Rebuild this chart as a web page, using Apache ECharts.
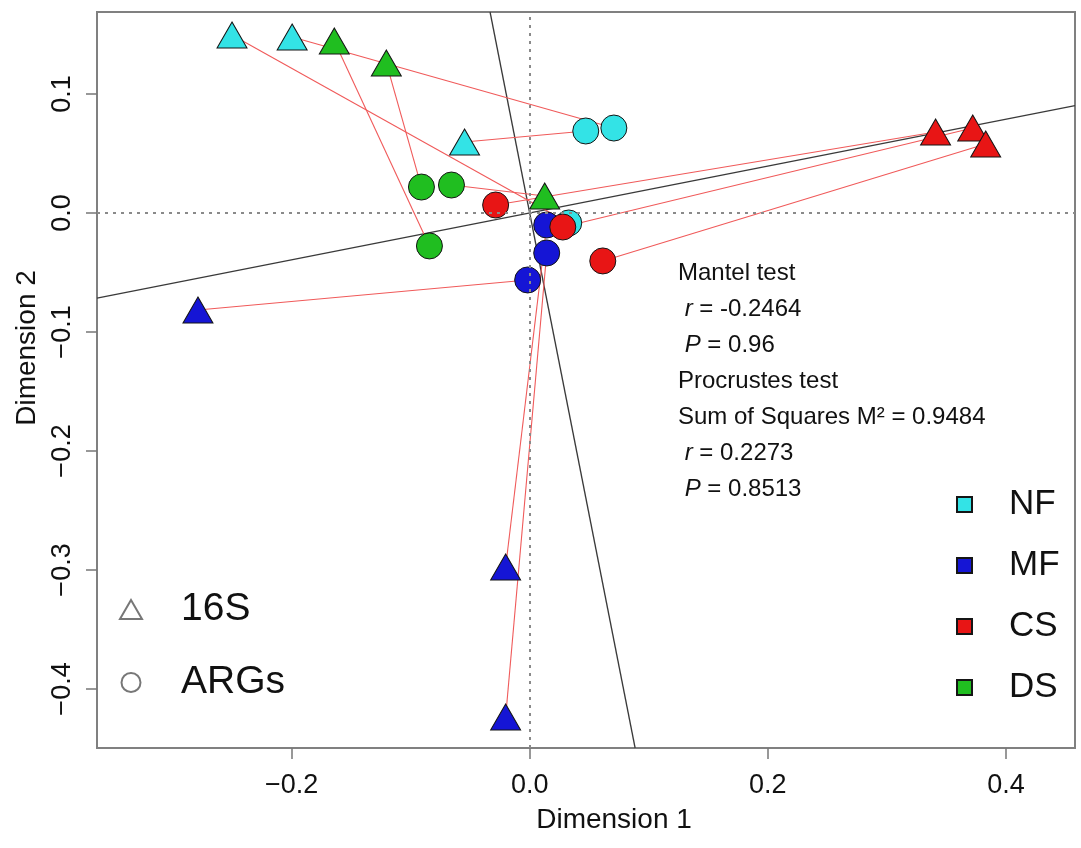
<!DOCTYPE html>
<html>
<head>
<meta charset="utf-8">
<script src="https://cdn.jsdelivr.net/npm/echarts@6/dist/echarts.min.js"></script>
<style>
  html, body { margin: 0; padding: 0; background: #fff; }
  #chart { width: 1081px; height: 848px; }
</style>
</head>
<body>
<div id="chart"></div>
<script>
// groups, in drawing order, and their fill colours
const groups = ['NF', 'MF', 'CS', 'DS']
const groupColors = ['#33E3E6', '#1515D5', '#E81515', '#20BE20']

// 16S ordination (triangles), three samples per group
const nf16S = [[-0.2500, 0.1496], [-0.1995, 0.1479], [-0.0547, 0.0597]]
const mf16S = [[-0.2786, -0.0815], [-0.0202, -0.2975], [-0.0202, -0.4235]]
const cs16S = [[0.3409, 0.0681], [0.3721, 0.0714], [0.3830, 0.0580]]
const ds16S = [[-0.1641, 0.1445], [-0.1204, 0.1261], [0.0126, 0.0143]]

// ARGs ordination (circles), same sample order as above
const nfARGs = [[0.0328, -0.0084], [0.0707, 0.0714], [0.0471, 0.0689]]
const mfARGs = [[-0.0017, -0.0563], [0.0143, -0.0101], [0.0143, -0.0336]]
const csARGs = [[-0.0286, 0.0067], [0.0278, -0.0118], [0.0614, -0.0403]]
const dsARGs = [[-0.0842, -0.0277], [-0.0909, 0.0218], [-0.0657, 0.0235]]

// slope of the rotated axis
const rotSlope = 0.197

// test results
const mantelR = '-0.2464'
const mantelP = '0.96'
const procSS = '0.9484'
const procR = '0.2273'
const procP = '0.8513'

// axes
const xRange = [-0.3634, 0.458]
const yRange = [-0.4496, 0.1689]
const xTicks = [-0.2, 0.0, 0.2, 0.4]
const yTicks = [-0.4, -0.3, -0.2, -0.1, 0.0, 0.1]

const tri = [nf16S, mf16S, cs16S, ds16S]
const circ = [nfARGs, mfARGs, csARGs, dsARGs]

const fmt = v => (v < -1e-9 ? '\u2212' : '') + Math.abs(v).toFixed(1)
const font = "'Liberation Sans', Arial, sans-serif"

// red segments joining each sample's two positions
let pairs = []
tri.forEach((pts, g) => {
  pts.forEach((p, i) => pairs.push({ coords: [p, circ[g][i]] }))
})

// rotated axes through the origin, clipped to the plot range
const rotLines = [
  { coords: [[xRange[0], rotSlope * xRange[0]], [xRange[1], rotSlope * xRange[1]]] },
  { coords: [[-rotSlope * yRange[1], yRange[1]], [-rotSlope * yRange[0], yRange[0]]] }
]

let series = [
  {
    type: 'lines', coordinateSystem: 'cartesian2d', z: 1, silent: true,
    lineStyle: { color: '#3a3a3a', width: 1.3, opacity: 1 },
    data: rotLines,
    markLine: {
      silent: true, symbol: 'none', label: { show: false },
      lineStyle: { type: [3, 5], color: '#8a8a8a', width: 2 },
      data: [{ yAxis: 0 }, { xAxis: 0 }]
    }
  },
  {
    type: 'lines', coordinateSystem: 'cartesian2d', z: 2, silent: true,
    lineStyle: { color: '#F05A5A', width: 1.1, opacity: 1 },
    data: pairs
  },
  // empty series, only for the shape legend
  { name: '16S', type: 'scatter', data: [], symbol: 'triangle',
    itemStyle: { color: 'rgba(0,0,0,0)', borderColor: '#555', borderWidth: 1.5 } },
  { name: 'ARGs', type: 'scatter', data: [], symbol: 'circle',
    itemStyle: { color: 'rgba(0,0,0,0)', borderColor: '#555', borderWidth: 1.5 } }
]

groups.forEach((g, k) => {
  const style = { color: groupColors[k], borderColor: '#151515', borderWidth: 1, opacity: 1 }
  series.push({
    name: g, type: 'scatter', z: 3, symbol: 'triangle', symbolSize: [30, 26],
    itemStyle: style, emphasis: { disabled: true }, data: tri[k]
  })
  series.push({
    name: g, type: 'scatter', z: 3, symbol: 'circle', symbolSize: 26,
    itemStyle: style, emphasis: { disabled: true }, data: circ[k]
  })
})

const option = {
  animation: false,
  backgroundColor: '#fff',
  textStyle: { fontFamily: font, color: '#111' },
  grid: { left: 97, right: 6, top: 12, bottom: 100, show: true, borderColor: '#808080', borderWidth: 2 },
  xAxis: {
    type: 'value', min: xRange[0], max: xRange[1],
    name: 'Dimension 1', nameLocation: 'middle', nameGap: 58,
    nameTextStyle: { fontSize: 28, color: '#111', padding: [0, 0, 0, 56] },
    axisLine: { show: false, onZero: false },
    axisTick: { show: true, length: 11, customValues: xTicks, lineStyle: { color: '#777', width: 1.5 } },
    axisLabel: { customValues: xTicks, formatter: fmt, fontSize: 27, color: '#111', margin: 24 },
    splitLine: { show: false }
  },
  yAxis: {
    type: 'value', min: yRange[0], max: yRange[1],
    name: 'Dimension 2', nameLocation: 'middle', nameGap: 52,
    nameTextStyle: { fontSize: 28, color: '#111', padding: [0, 0, 0, 64] },
    axisLine: { show: false, onZero: false },
    axisTick: { show: true, length: 11, customValues: yTicks, lineStyle: { color: '#777', width: 1.5 } },
    axisLabel: { customValues: yTicks, formatter: fmt, fontSize: 27, color: '#111', margin: 21, rotate: 90 },
    splitLine: { show: false }
  },
  legend: [
    {
      data: [{ name: '16S', icon: 'triangle' }, { name: 'ARGs', icon: 'circle' }],
      orient: 'vertical', left: 119, top: 590, padding: 0,
      itemWidth: 22, itemHeight: 19, itemGap: 34,
      textStyle: { fontSize: 39, color: '#111', padding: [0, 0, 0, 34] }
    },
    {
      data: groups.map(g => ({ name: g, icon: 'rect' })),
      orient: 'vertical', left: 956, top: 487, padding: 0,
      itemWidth: 15, itemHeight: 15, itemGap: 26,
      textStyle: { fontSize: 35, color: '#111', padding: [0, 0, 0, 32] }
    }
  ],
  graphic: [{
    type: 'text', left: 678, top: 261, silent: true,
    style: {
      text: [
        '{n|Mantel test}',
        '{i| r}{n| = ' + mantelR + '}',
        '{i| P}{n| = ' + mantelP + '}',
        '{n|Procrustes test}',
        '{n|Sum of Squares M\u00b2 = ' + procSS + '}',
        '{i| r}{n| = ' + procR + '}',
        '{i| P}{n| = ' + procP + '}'
      ].join('\n'),
      rich: {
        n: { fontSize: 24, lineHeight: 36, fontFamily: font, fill: '#111' },
        i: { fontSize: 24, lineHeight: 36, fontFamily: font, fontStyle: 'italic', fill: '#111' }
      }
    }
  }],
  series: series
}

echarts.init(document.getElementById('chart')).setOption(option)
</script>
</body>
</html>
